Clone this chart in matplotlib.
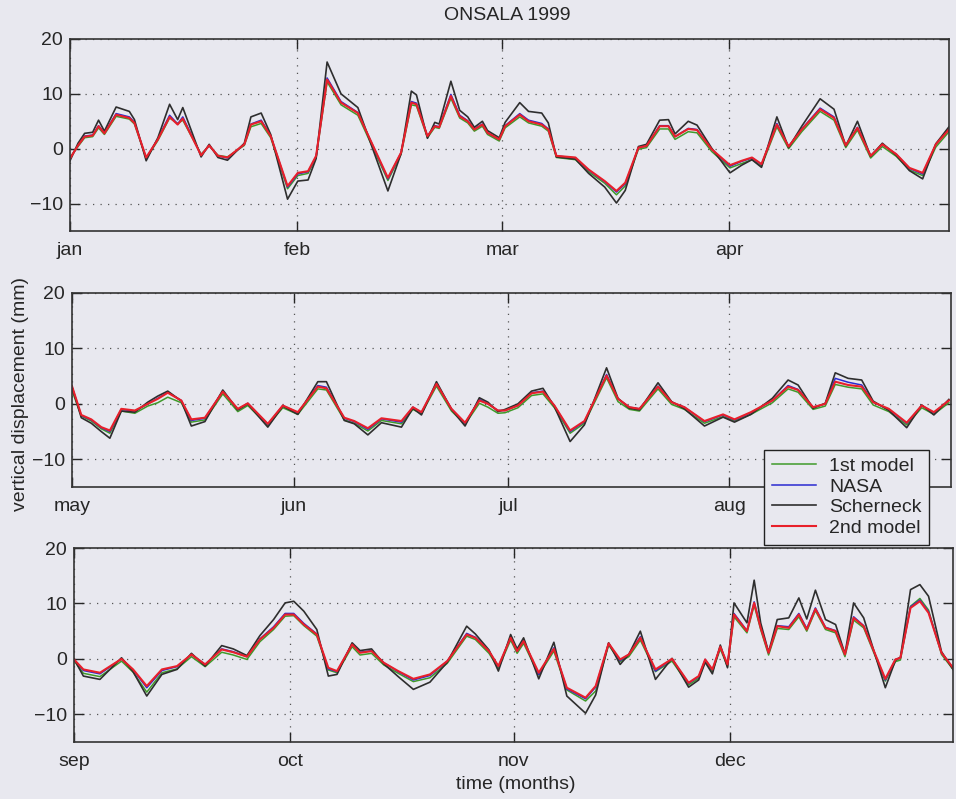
import numpy as np
import matplotlib
matplotlib.use("Agg")
import matplotlib.pyplot as plt

plt.rcParams['font.family'] = ['Liberation Sans', 'DejaVu Sans']

# month layout of the year, split into three panels of four months
month_names = ['jan', 'feb', 'mar', 'apr', 'may', 'jun',
               'jul', 'aug', 'sep', 'oct', 'nov', 'dec']
month_days = [31, 28, 31, 30, 31, 30, 31, 31, 30, 31, 30, 31]

# ---- panel 1: jan-apr (days since jan 1) ----
p1_day = [0.0, 1.1, 2.0, 3.1, 3.9, 4.7, 6.3, 8.1, 8.8, 10.4, 12.0, 13.6, 14.7, 15.4,
          17.9, 19.0, 20.2, 21.5, 23.8, 24.7, 26.1, 27.4, 29.7, 31.1, 32.5, 33.6,
          35.1, 37.0, 39.3, 43.4, 45.2, 46.6, 47.3, 48.8, 49.8, 50.4, 52.0, 53.2,
          54.3, 55.2, 56.3, 57.0, 58.6, 59.4, 61.4, 62.6, 64.4, 65.3, 66.4, 69.0,
          70.8, 73.0, 74.6, 75.8, 77.6, 78.7, 80.5, 81.7, 82.6, 84.4, 85.6, 87.6,
          90.1, 91.7, 93.1, 94.4, 96.5, 98.1, 99.9, 102.4, 104.3, 105.9, 107.5,
          109.3, 110.9, 112.8, 114.6, 116.4, 118.2, 120.0]
p1_model1 = [-1.6, 0.4, 2.0, 2.2, 3.8, 2.6, 5.9, 5.4, 4.5, -1.8, 1.5, 5.6, 4.6, 5.2,
             -1.0, 0.5, -1.2, -1.5, 0.6, 4.0, 4.6, 2.0, -7.3, -4.9, -4.5, -1.6,
             12.2, 8.0, 6.1, -5.8, -1.0, 8.0, 7.8, 2.0, 3.9, 3.7, 9.2, 5.6,
             4.7, 3.2, 4.1, 2.6, 1.4, 3.8, 5.8, 4.7, 4.1, 3.2, -1.6, -2.0,
             -4.2, -6.3, -8.4, -6.8, -0.1, 0.2, 3.6, 3.6, 1.7, 3.1, 2.9, -0.5,
             -3.5, -2.7, -2.0, -3.2, 4.0, 0.0, 3.1, 6.8, 5.2, 0.2, 3.4,
             -1.7, 0.4, -1.4, -3.9, -4.9, 0.3, 3.1]
p1_nasa = [-1.8, 0.6, 2.3, 2.5, 4.2, 2.9, 6.4, 5.8, 4.8, -1.7, 1.8, 6.1, 4.5, 5.8,
           -1.2, 0.6, -1.3, -1.7, 0.8, 4.5, 5.2, 2.4, -7.0, -4.6, -4.2, -1.4,
           12.9, 8.6, 6.6, -5.5, -0.7, 8.6, 8.3, 2.3, 4.2, 4.0, 9.9, 6.1,
           5.1, 3.6, 4.5, 2.9, 1.7, 4.2, 6.4, 5.2, 4.6, 3.6, -1.3, -1.7,
           -3.9, -6.0, -7.9, -6.4, 0.2, 0.5, 4.2, 4.2, 2.2, 3.7, 3.5, -0.1,
           -3.2, -2.3, -1.7, -2.9, 4.6, 0.4, 3.6, 7.4, 5.8, 0.6, 3.9,
           -1.3, 0.8, -1.0, -3.6, -4.6, 0.8, 3.6]
p1_scherneck = [-2.2, 1.0, 2.8, 3.0, 5.2, 3.2, 7.6, 6.8, 5.3, -2.2, 2.0, 8.1, 5.3, 7.5,
                -1.5, 0.8, -1.6, -2.1, 1.0, 5.8, 6.5, 2.6, -9.2, -5.9, -5.7, -1.8,
                15.8, 10.0, 7.5, -7.7, -0.9, 10.5, 9.8, 1.9, 4.8, 4.5, 12.3, 7.0,
                5.8, 3.9, 5.0, 3.3, 2.0, 4.8, 8.4, 6.8, 6.5, 4.7, -1.5, -1.9,
                -4.5, -7.0, -9.9, -7.6, 0.4, 0.8, 5.2, 5.3, 2.7, 5.0, 4.3, 0.1,
                -4.4, -3.0, -2.0, -3.4, 5.8, 0.2, 4.1, 9.1, 7.2, 0.5, 5.0,
                -1.4, 1.0, -1.2, -4.0, -5.5, 0.9, 4.0]
p1_model2 = [-1.8, 0.6, 2.2, 2.4, 4.1, 2.8, 6.2, 5.6, 4.7, -1.6, 1.7, 5.8, 4.4, 5.5,
             -1.2, 0.6, -1.3, -1.6, 0.8, 4.4, 5.0, 2.3, -6.8, -4.4, -4.1, -1.3,
             12.6, 8.4, 6.5, -5.3, -0.7, 8.4, 8.1, 2.3, 4.1, 3.9, 9.6, 5.9,
             5.0, 3.5, 4.4, 2.9, 1.7, 4.1, 6.2, 5.0, 4.4, 3.5, -1.3, -1.6,
             -3.8, -5.9, -7.7, -6.2, 0.2, 0.5, 4.1, 4.1, 2.2, 3.6, 3.4, -0.1,
             -3.0, -2.2, -1.6, -2.8, 4.4, 0.4, 3.5, 7.2, 5.6, 0.6, 3.8,
             -1.3, 0.8, -1.0, -3.5, -4.4, 0.8, 3.5]

# ---- panel 2: may-aug (days since may 1) ----
p2_day = [0.0, 1.3, 2.7, 4.1, 5.3, 6.9, 8.8, 10.6, 12.0, 13.4, 15.3, 16.7, 18.6,
          21.1, 23.2, 24.6, 27.4, 29.5, 31.6, 34.4, 35.6, 38.1, 39.5, 41.4, 43.3,
          46.1, 47.7, 48.9, 51.0, 53.1, 55.0, 57.0, 58.2, 59.6, 60.6, 62.4, 64.3,
          65.9, 67.5, 69.7, 71.7, 73.1, 74.8, 76.4, 78.0, 79.4, 82.0, 83.9, 85.7,
          88.5, 91.1, 92.7, 95.0, 98.0, 100.2, 101.6, 103.7, 105.4, 106.8, 108.6,
          110.5, 112.1, 114.3, 116.8, 118.9, 120.6, 122.7]
p2_model1 = [2.4, -2.2, -3.1, -4.5, -5.3, -1.3, -1.7, -0.4, 0.2, 1.2, 0.2, -3.3, -2.9,
             1.8, -1.4, -0.3, -3.9, -0.7, -1.9, 2.7, 2.5, -2.9, -3.5, -4.9, -3.0,
             -3.6, -1.0, -1.8, 3.2, -1.3, -3.7, 0.1, -0.6, -1.7, -1.6, -0.7, 1.5,
             1.8, -0.7, -5.3, -3.5, 0.2, 4.7, 0.4, -1.0, -1.3, 2.7, -0.1, -1.0,
             -3.5, -2.3, -3.1, -1.9, 0.2, 2.7, 2.1, -1.0, -0.4, 3.5, 3.0,
             2.7, -0.2, -1.4, -3.8, -0.7, -1.9, 0.2]
p2_nasa = [3.1, -2.1, -2.9, -4.3, -5.0, -1.0, -1.3, 0.0, 1.0, 2.1, 0.6, -3.0, -2.6,
           2.3, -1.0, 0.1, -3.7, -0.3, -1.6, 3.3, 3.0, -2.6, -3.2, -4.6, -2.7,
           -3.3, -0.6, -1.6, 3.7, -0.9, -3.5, 0.8, 0.0, -1.2, -1.2, -0.3, 2.0,
           2.3, -0.3, -5.0, -3.2, 0.6, 5.3, 0.9, -0.6, -0.9, 3.2, 0.3, -0.6,
           -3.2, -2.0, -2.9, -1.6, 0.6, 3.3, 2.6, -0.6, 0.0, 4.6, 3.9,
           3.4, 0.3, -1.0, -3.5, -0.3, -1.6, 0.6]
p2_scherneck = [3.0, -2.5, -3.5, -5.0, -6.2, -1.3, -1.5, 0.3, 1.4, 2.3, 0.5, -4.0, -3.2,
                2.5, -1.1, 0.0, -4.2, -0.4, -1.9, 4.0, 4.0, -3.0, -3.6, -5.6, -3.4,
                -4.2, -0.8, -2.0, 4.0, -1.0, -4.0, 1.1, 0.3, -1.4, -1.0, 0.0, 2.3,
                2.8, -0.5, -6.8, -3.8, 0.8, 6.5, 1.0, -0.8, -1.1, 3.8, 0.4, -0.9,
                -4.0, -2.4, -3.3, -1.9, 1.0, 4.3, 3.4, -0.8, 0.1, 5.6, 4.6,
                4.3, 0.5, -1.2, -4.3, -0.2, -2.0, 0.8]
p2_model2 = [3.2, -2.0, -2.8, -4.2, -4.8, -0.9, -1.2, 0.0, 0.9, 2.0, 0.6, -2.8, -2.5,
             2.2, -0.9, 0.1, -3.6, -0.3, -1.5, 3.1, 2.8, -2.5, -3.1, -4.4, -2.6,
             -3.1, -0.6, -1.5, 3.6, -0.9, -3.4, 0.6, 0.0, -1.2, -1.2, -0.3, 1.9,
             2.2, -0.3, -4.8, -3.1, 0.6, 5.1, 0.9, -0.6, -0.9, 3.1, 0.3, -0.6,
             -3.1, -1.9, -2.8, -1.5, 0.6, 3.1, 2.5, -0.6, 0.0, 4.0, 3.4,
             3.1, 0.3, -0.9, -3.4, -0.3, -1.5, 0.6]

# ---- panel 3: sep-dec (days since sep 1) ----
p3_day = [0.0, 1.3, 3.6, 6.6, 8.2, 10.1, 12.2, 14.3, 16.3, 18.2, 20.5, 22.1, 24.0,
          25.8, 27.7, 29.3, 30.5, 31.9, 33.7, 35.3, 36.5, 38.6, 39.7, 41.3, 43.0,
          45.0, 47.1, 49.4, 51.8, 54.5, 55.7, 57.6, 58.9, 60.6, 61.5, 62.4, 64.5,
          66.6, 68.4, 71.0, 72.4, 74.2, 75.8, 77.0, 78.6, 80.7, 83.0, 85.3, 86.7,
          87.6, 88.6, 89.7, 90.7, 91.6, 93.4, 94.4, 95.3, 96.4, 97.6, 99.2, 100.6,
          101.7, 102.9, 104.3, 105.7, 107.0, 108.2, 109.6, 112.6, 114.0, 114.7,
          116.1, 117.4, 118.6, 120.4, 122.0]
p3_model1 = [-0.3, -2.6, -3.2, -0.4, -2.4, -6.0, -2.5, -1.8, 0.4, -1.4, 1.2, 0.7, -0.1,
             3.1, 5.3, 7.7, 7.8, 6.0, 4.1, -2.0, -2.5, 2.2, 0.7, 1.0, -1.1,
             -2.6, -4.1, -3.4, -0.8, 4.1, 3.5, 1.0, -1.7, 3.4, 1.0, 2.8, -2.9,
             1.4, -5.6, -7.6, -5.8, 2.5, -0.5, 0.4, 3.4, -2.3, -0.4, -4.7, -3.5,
             -0.5, -2.3, 1.8, -1.4, 7.6, 4.7, 9.7, 5.3, 0.7, 5.5, 5.3, 7.6,
             5.0, 8.7, 5.3, 4.7, 0.4, 7.0, 5.6, -4.0, -0.5, -0.2,
             9.5, 10.9, 8.8, 0.8, -1.9]
p3_nasa = [-0.1, -2.1, -2.7, 0.0, -2.0, -5.2, -2.1, -1.4, 0.8, -1.0, 1.8, 1.3, 0.4,
           3.6, 5.8, 8.2, 8.2, 6.4, 4.5, -1.8, -2.3, 2.7, 1.2, 1.5, -0.7,
           -2.3, -3.8, -3.0, -0.4, 4.6, 3.9, 1.4, -1.4, 3.9, 1.4, 3.3, -2.8,
           2.0, -5.4, -7.2, -5.1, 2.8, -0.3, 0.8, 4.0, -2.2, 0.0, -4.4, -3.2,
           -0.1, -2.0, 2.2, -1.1, 8.2, 5.1, 10.3, 5.7, 1.1, 6.0, 5.8, 8.2,
           5.5, 9.2, 5.7, 5.1, 0.8, 7.6, 6.0, -3.8, -0.1, 0.2,
           9.4, 10.6, 8.5, 1.1, -1.6]
p3_scherneck = [0.0, -3.1, -3.7, 0.2, -2.3, -6.7, -2.8, -1.9, 1.0, -1.3, 2.4, 1.8, 0.6,
                4.2, 7.1, 10.1, 10.4, 8.6, 5.3, -3.1, -2.8, 2.9, 1.5, 1.8, -0.9,
                -3.2, -5.5, -4.2, -0.6, 5.9, 4.5, 1.6, -2.2, 4.4, 1.8, 3.8, -3.6,
                3.0, -6.7, -9.8, -6.5, 2.9, -1.0, 0.8, 5.0, -3.7, 0.1, -5.1, -3.8,
                -0.6, -2.7, 2.5, -1.6, 10.1, 6.5, 14.2, 6.5, 1.2, 7.1, 7.4, 11.0,
                7.2, 12.4, 7.1, 6.2, 0.9, 10.1, 7.4, -5.2, -0.3, 0.3,
                12.5, 13.4, 11.3, 1.3, -1.9]
p3_model2 = [-0.1, -1.9, -2.5, 0.0, -1.9, -4.9, -1.9, -1.3, 0.8, -1.0, 1.7, 1.2, 0.4,
             3.5, 5.6, 8.0, 8.0, 6.2, 4.4, -1.6, -2.2, 2.6, 1.1, 1.4, -0.7,
             -2.2, -3.6, -2.8, -0.4, 4.4, 3.8, 1.4, -1.3, 3.8, 1.4, 3.2, -2.5,
             1.8, -5.2, -7.0, -4.9, 2.8, -0.1, 0.8, 3.8, -1.9, 0.0, -4.3, -3.1,
             -0.1, -1.9, 2.2, -1.0, 8.0, 5.0, 10.1, 5.6, 1.1, 5.9, 5.6, 8.0,
             5.3, 9.0, 5.6, 5.0, 0.8, 7.4, 5.9, -3.6, -0.1, 0.2,
             9.2, 10.4, 8.3, 1.1, -1.6]

series_labels = ['1st model', 'NASA', 'Scherneck', '2nd model']
series_colors = ['#3f9a2a', '#2a2ad0', '#2e2e2e', '#e8202a']
series_widths = [1.1, 1.1, 1.2, 1.5]

panels = [
    (p1_day, [p1_model1, p1_nasa, p1_scherneck, p1_model2], 0),
    (p2_day, [p2_model1, p2_nasa, p2_scherneck, p2_model2], 4),
    (p3_day, [p3_model1, p3_nasa, p3_scherneck, p3_model2], 8),
]

bg = '#e8e8ef'
ink = '#262626'
fs = 14

fig = plt.figure(figsize=(9.56, 7.99), dpi=100, facecolor=bg)

# axes boxes [left, bottom, width, height] in figure fraction
boxes = [
    [0.0732, 0.7109, 0.9195, 0.2403],
    [0.0753, 0.3905, 0.9195, 0.2428],
    [0.0774, 0.0713, 0.9195, 0.2428],
]

handles = None
for box, (days, values, m0) in zip(boxes, panels):
    ax = fig.add_axes(box, facecolor=bg)
    lens = month_days[m0:m0 + 4]
    starts = np.concatenate([[0], np.cumsum(lens)[:-1]])
    lines = []
    for vals, lab, col, lw in zip(values, series_labels, series_colors, series_widths):
        ln, = ax.plot(days, vals, color=col, lw=lw, label=lab)
        lines.append(ln)
    handles = lines
    ax.set_xlim(0, sum(lens))
    ax.set_ylim(-15, 20)
    ax.set_yticks([-10, 0, 10, 20])
    ax.set_xticks(starts)
    ax.set_xticklabels(month_names[m0:m0 + 4])
    ax.grid(True, linestyle=(0, (1, 5)), color='#555555', lw=0.9)
    ax.tick_params(direction='in', length=7, width=1.0, top=True, right=True,
                   labelsize=fs, colors=ink, pad=5)
    ax.tick_params(axis='x', pad=8)
    for sp in ax.spines.values():
        sp.set_color('#333333')
        sp.set_linewidth(1.2)

fig.text(0.531, 0.981, 'ONSALA 1999', ha='center', va='center', fontsize=fs, color=ink)
fig.text(0.539, 0.018, 'time (months)', ha='center', va='center', fontsize=fs, color=ink)
fig.text(0.021, 0.507, 'vertical displacement (mm)', ha='center', va='center',
         rotation=90, fontsize=fs, color=ink)

leg = fig.legend(handles, series_labels, loc='upper left',
                 bbox_to_anchor=(0.799, 0.437),
                 fontsize=fs, frameon=True, fancybox=False, framealpha=1,
                 facecolor=bg, edgecolor='#222222', handlelength=2.3,
                 handletextpad=0.65, labelspacing=0.15, borderpad=0.4,
                 borderaxespad=0)
leg.get_frame().set_linewidth(1.0)
for t in leg.get_texts():
    t.set_color(ink)

fig.savefig('out.png', dpi=100, facecolor=bg)
